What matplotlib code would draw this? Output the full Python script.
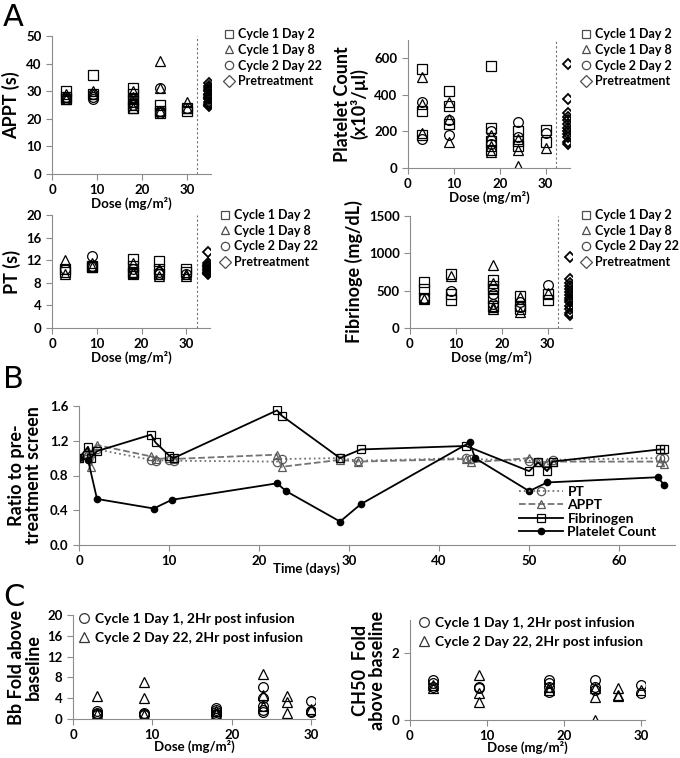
import numpy as np
import matplotlib.pyplot as plt
from matplotlib.lines import Line2D

plt.rcParams['font.family'] = ['Lato', 'DejaVu Sans']
plt.rcParams['font.weight'] = 'bold'

# ---- panel A data: dose (mg/m2) and values ----
appt_c1d2_dose = [3, 3, 3, 9, 9, 18, 18, 18, 18, 18, 24, 24, 24, 30, 30]
appt_c1d2 = [30, 28, 27, 36, 29, 31, 29, 27, 25, 24, 25, 22, 23, 24, 23]
appt_c1d8_dose = [3, 3, 3, 9, 9, 18, 18, 18, 18, 24, 24, 24, 30, 30]
appt_c1d8 = [29, 27, 28, 30, 29, 30, 28, 26, 24, 41, 31, 23, 26, 24]
appt_c2d22_dose = [3, 3, 9, 9, 9, 18, 18, 18, 24, 24, 24, 30]
appt_c2d22 = [28, 27, 29, 28, 27, 27, 26, 25, 31, 23, 22, 24]
appt_pre = [33, 32, 31, 30.5, 30, 29, 28.5, 28, 27.5, 27, 26, 25.5, 25, 24.5]

plt_c1d2_dose = [3, 3, 3, 9, 9, 9, 18, 18, 18, 18, 24, 24, 24, 30, 30]
plt_c1d2 = [540, 310, 180, 420, 340, 240, 560, 220, 150, 100, 200, 150, 120, 210, 140]
plt_c1d8_dose = [3, 3, 3, 9, 9, 9, 18, 18, 18, 24, 24, 24, 30]
plt_c1d8 = [500, 350, 190, 360, 270, 140, 180, 120, 90, 10, 100, 160, 110]
plt_c2d2_dose = [3, 3, 9, 9, 18, 18, 24, 24, 30]
plt_c2d2 = [360, 160, 260, 180, 200, 130, 250, 170, 190]
plt_pre = [570, 380, 300, 280, 260, 240, 220, 200, 185, 170, 140, 130]

pt_c1d2_dose = [3, 3, 9, 9, 18, 18, 18, 18, 24, 24, 24, 30, 30]
pt_c1d2 = [10.5, 10, 11, 10.8, 12.2, 11, 10, 9.5, 11.8, 10.5, 9.5, 10.5, 10]
pt_c1d8_dose = [3, 3, 9, 9, 18, 18, 18, 24, 24, 30, 30]
pt_c1d8 = [12, 9.5, 11.5, 10.8, 11.5, 10, 9.8, 10.5, 9.2, 9.5, 9.2]
pt_c2d22_dose = [3, 9, 9, 18, 18, 24, 24, 30]
pt_c2d22 = [10.5, 12.7, 11, 10.5, 9.8, 10, 9.5, 9.5]
pt_pre = [13.5, 11.5, 11.2, 11, 10.8, 10.5, 10.2, 10, 9.8, 9.5]

fib_c1d2_dose = [3, 3, 3, 9, 9, 9, 18, 18, 18, 18, 18, 24, 24, 24, 30, 30]
fib_c1d2 = [620, 520, 400, 720, 460, 380, 640, 560, 520, 400, 300, 430, 300, 250, 450, 380]
fib_c1d8_dose = [3, 9, 18, 18, 18, 18, 24, 24, 30]
fib_c1d8 = [390, 690, 840, 600, 280, 250, 410, 220, 470]
fib_c2d22_dose = [3, 9, 18, 18, 24, 24, 30]
fib_c2d22 = [400, 500, 450, 320, 350, 280, 580]
fib_pre = [950, 650, 600, 560, 520, 480, 440, 400, 380, 350, 300, 250, 200, 180]

pre_dose = 34.8

# ---- panel B data: time (days) and ratio to pretreatment ----
pt_days = [0, 1, 1.3, 2, 8, 8.5, 10, 10.5, 22, 22.5, 29, 31, 43, 43.5, 50, 51, 52, 52.6, 64.5, 65]
pt_ratio = [1.0, 1.02, 1.05, 1.1, 0.98, 0.97, 0.98, 0.97, 0.96, 0.99, 1.0, 0.97, 1.0, 0.99,
            0.97, 0.95, 0.92, 0.98, 1.0, 1.0]
appt_days = [0, 1, 1.3, 2, 8, 8.5, 10, 10.5, 22, 22.5, 29, 31, 43, 43.5, 50, 51, 52, 52.6, 64.5, 65]
appt_ratio = [1.0, 1.08, 0.9, 1.15, 1.02, 0.99, 1.0, 0.99, 1.04, 0.9, 0.98, 0.96, 0.99, 0.95,
              1.0, 0.96, 0.95, 0.96, 0.96, 0.93]
fib_days = [0, 1, 1.3, 2, 8, 8.5, 10, 10.5, 22, 22.5, 29, 31.3, 43, 50, 51, 52, 52.6, 64.5, 65]
fib_ratio = [1.0, 1.13, 1.0, 1.08, 1.27, 1.18, 1.03, 1.0, 1.55, 1.49, 1.0, 1.1, 1.14,
             0.85, 0.95, 0.85, 0.96, 1.1, 1.1]
plat_days = [0, 1, 2, 8.3, 10.3, 22, 23, 29, 31.3, 43.4, 44, 50, 52, 64.3, 65]
plat_ratio = [1.0, 0.98, 0.53, 0.42, 0.52, 0.71, 0.62, 0.27, 0.47, 1.18, 1.0, 0.62, 0.72, 0.78, 0.69]

# ---- panel C data ----
bb_c1d1_dose = [3, 3, 3, 3, 9, 9, 9, 18, 18, 18, 18, 18, 24, 24, 24, 24, 24, 30, 30, 30]
bb_c1d1 = [1.5, 1.2, 0.9, 0.7, 1.2, 1.0, 0.8, 2.2, 1.8, 1.4, 1.0, 0.8, 6.2, 4.0, 2.5, 1.8, 1.3, 3.5, 1.5, 1.3]
bb_c2d22_dose = [3, 3, 9, 9, 9, 18, 18, 24, 24, 24, 27, 27, 27, 30]
bb_c2d22 = [4.4, 1.0, 7.1, 4.0, 0.8, 1.5, 1.0, 8.6, 4.7, 2.5, 4.4, 3.2, 1.2, 2.0]

ch50_c1d1_dose = [3, 3, 3, 9, 9, 18, 18, 18, 18, 24, 24, 24, 30, 30]
ch50_c1d1 = [1.2, 1.1, 1.0, 1.0, 0.95, 1.2, 1.1, 1.0, 0.85, 1.2, 1.0, 0.9, 1.05, 0.8]
ch50_c2d22_dose = [3, 3, 9, 9, 9, 18, 18, 24, 24, 24, 27, 27, 27, 30]
ch50_c2d22 = [1.05, 0.95, 1.35, 0.8, 0.55, 1.0, 0.9, 0.95, 0.7, 0.0, 0.95, 0.75, 0.72, 0.9]

W, H = 680, 758
fig = plt.figure(figsize=(W / 100, H / 100), dpi=100)


def box(x0, y0, x1, y1):
    return [x0 / W, 1 - y1 / H, (x1 - x0) / W, (y1 - y0) / H]


def style(ax):
    for s in ['top', 'right']:
        ax.spines[s].set_visible(False)
    for s in ['left', 'bottom']:
        ax.spines[s].set_color('0.55')
    ax.tick_params(colors='0.55', labelcolor='black', labelsize=9.5, length=4, width=0.8)
    for t in ax.get_xticklabels() + ax.get_yticklabels():
        t.set_fontweight('bold')


def legend_marks(markers, labels, xy, size=9, ms=6):
    hs = [Line2D([], [], ls='none', marker=m, mfc='none', mec='0.3', ms=ms, mew=0.9) for m in markers]
    fig.legend(hs, labels, loc='upper left', bbox_to_anchor=(xy[0] / W, 1 - xy[1] / H),
               frameon=False, handlelength=0.8, handletextpad=0.3, labelspacing=0.3,
               borderaxespad=0, borderpad=0, prop={'size': size, 'weight': 'bold'})


def dose_panel(rect, series, pre, ylim, yticks, ylabel, labels, leg_xy):
    ax = fig.add_axes(box(*rect))
    for (d, v), m in zip(series, ['s', '^', 'o']):
        ax.plot(d, v, ls='none', marker=m, ms=7, mfc='none', mec='black', mew=0.9)
    ax.plot(np.full(len(pre), pre_dose), pre, ls='none', marker='D', ms=5.5,
            mfc='none', mec='black', mew=1.3)
    ax.axvline(32.3, color='0.45', ls=(0, (2, 2)), lw=0.8)
    ax.set_xlim(0, 35.3)
    ax.set_ylim(*ylim)
    ax.set_xticks([0, 10, 20, 30])
    ax.set_yticks(yticks)
    ax.set_ylabel(ylabel, fontsize=13, fontweight='bold', labelpad=4)
    ax.set_xlabel('Dose (mg/m²)', fontsize=9.5, fontweight='bold', labelpad=0)
    style(ax)
    legend_marks(['s', '^', 'o', 'D'], labels, leg_xy)
    return ax


dose_panel((52, 36, 211, 174),
           [(appt_c1d2_dose, appt_c1d2), (appt_c1d8_dose, appt_c1d8), (appt_c2d22_dose, appt_c2d22)],
           appt_pre, (0, 50), range(0, 51, 10), 'APPT (s)',
           ['Cycle 1 Day 2', 'Cycle 1 Day 8', 'Cycle 2 Day 22', 'Pretreatment'], (224, 28))
ax = dose_panel((408, 40, 570, 168),
                [(plt_c1d2_dose, plt_c1d2), (plt_c1d8_dose, plt_c1d8), (plt_c2d2_dose, plt_c2d2)],
                plt_pre, (0, 700), [0, 200, 400, 600], 'Platelet Count\n(x10³/µl)',
                ['Cycle 1 Day 2', 'Cycle 1 Day 8', 'Cycle 2 Day 2', 'Pretreatment'], (581, 28))
ax.yaxis.label.set_linespacing(1.0)
dose_panel((52, 215, 210, 328),
           [(pt_c1d2_dose, pt_c1d2), (pt_c1d8_dose, pt_c1d8), (pt_c2d22_dose, pt_c2d22)],
           pt_pre, (0, 20), range(0, 21, 4), 'PT (s)',
           ['Cycle 1 Day 2', 'Cycle 1 Day 8', 'Cycle 2 Day 22', 'Pretreatment'], (220, 209))
dose_panel((410, 216, 572, 328),
           [(fib_c1d2_dose, fib_c1d2), (fib_c1d8_dose, fib_c1d8), (fib_c2d22_dose, fib_c2d22)],
           fib_pre, (0, 1500), [0, 500, 1000, 1500], 'Fibrinoge (mg/dL)',
           ['Cycle 1 Day 2', 'Cycle 1 Day 8', 'Cycle 2 Day 22', 'Pretreatment'], (581, 209))

# ---- panel B ----
axb = fig.add_axes(box(79, 406, 675, 545))
axb.plot(pt_days, pt_ratio, color='0.45', ls=':', lw=1.3, marker='o', ms=6,
         mfc='none', mec='0.35', mew=0.9, label='PT')
axb.plot(appt_days, appt_ratio, color='0.45', ls='--', lw=1.3, marker='^', ms=6,
         mfc='none', mec='0.35', mew=0.9, label='APPT')
axb.plot(fib_days, fib_ratio, color='black', ls='-', lw=1.3, marker='s', ms=6,
         mfc='none', mec='black', mew=0.9, label='Fibrinogen')
axb.plot(plat_days, plat_ratio, color='black', ls='-', lw=1.3, marker='o', ms=4.5,
         mfc='black', mec='black', label='Platelet Count')
axb.set_xlim(0, 66.2)
axb.set_ylim(0, 1.6)
axb.set_xticks(range(0, 61, 10))
axb.set_yticks([0, 0.4, 0.8, 1.2, 1.6])
axb.set_ylabel('Ratio to pre-\ntreatment screen', fontsize=13, fontweight='bold',
               linespacing=1.0, labelpad=6)
style(axb)
axb.legend(loc='lower right', bbox_to_anchor=(0.99, -0.04), frameon=False, handlelength=3.2,
           handletextpad=0.3, labelspacing=0.1, prop={'size': 10, 'weight': 'bold'})
fig.text(306 / W, 1 - 569 / H, 'Time (days)', ha='center', va='center', fontsize=9.5,
         fontweight='bold')

# ---- panel C ----
c_labels = ['Cycle 1 Day 1, 2Hr post infusion', 'Cycle 2 Day 22, 2Hr post infusion']
for rect, s1, s2, ylim, yticks, ylabel, leg_xy in [
        ((73, 615, 315, 719), (bb_c1d1_dose, bb_c1d1), (bb_c2d22_dose, bb_c2d22),
         (0, 20), range(0, 21, 4), 'Bb Fold above\nbaseline', (78, 613)),
        ((410, 620, 645, 720), (ch50_c1d1_dose, ch50_c1d1), (ch50_c2d22_dose, ch50_c2d22),
         (0, 3), [0, 2], 'CH50  Fold\nabove baseline', (418, 617))]:
    ax = fig.add_axes(box(*rect))
    ax.plot(*s1, ls='none', marker='o', ms=7, mfc='none', mec='black', mew=0.9)
    ax.plot(*s2, ls='none', marker='^', ms=7.5, mfc='none', mec='black', mew=0.9)
    ax.set_xlim(0, 30.5)
    ax.set_ylim(*ylim)
    ax.set_xticks([0, 10, 20, 30])
    ax.set_yticks(yticks)
    ax.set_ylabel(ylabel, fontsize=13, fontweight='bold', linespacing=1.0, labelpad=4)
    ax.set_xlabel('Dose (mg/m²)', fontsize=9.5, fontweight='bold', labelpad=-1)
    style(ax)
    hs = [Line2D([], [], ls='none', marker=m, mfc='none', mec='0.2', ms=7, mew=0.9) for m in ['o', '^']]
    fig.legend(hs, c_labels, loc='upper left', bbox_to_anchor=(leg_xy[0] / W, 1 - leg_xy[1] / H),
               frameon=False, handlelength=0.8, handletextpad=0.4, labelspacing=0.5,
               borderaxespad=0, borderpad=0, prop={'size': 10, 'weight': 'bold'})

# panel letters
for letter, y in [('A', 18), ('B', 380), ('C', 598)]:
    fig.text(3 / W, 1 - y / H, letter, fontsize=22, ha='left', va='center', fontweight='normal',
             family='DejaVu Sans')

fig.savefig('out.png', dpi=100)
